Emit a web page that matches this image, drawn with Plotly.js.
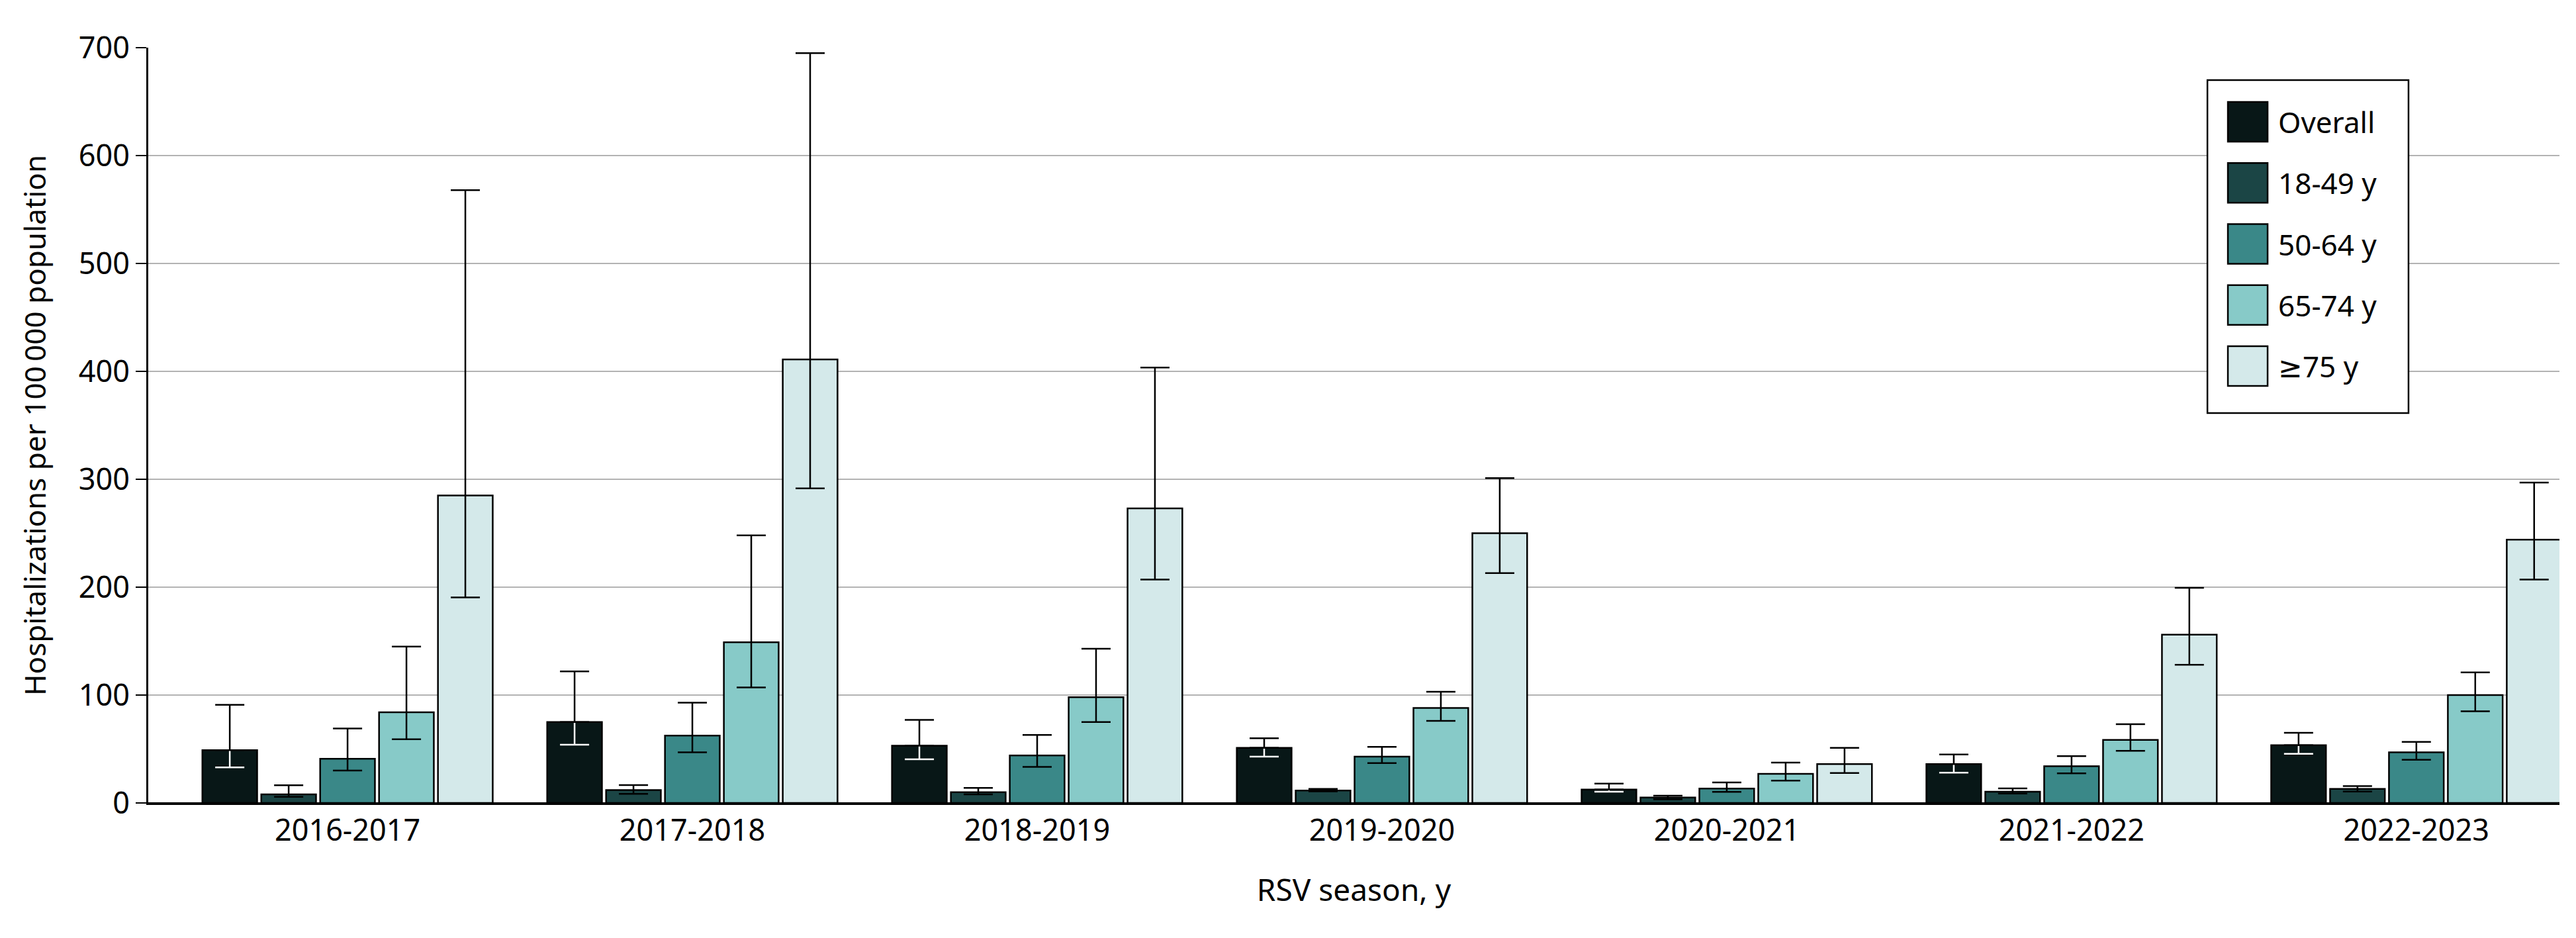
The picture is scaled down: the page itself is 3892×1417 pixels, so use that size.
<!DOCTYPE html>
<html>
<head>
<meta charset="utf-8">
<script src="https://cdn.plot.ly/plotly-3.0.1.min.js"></script>
<style>html,body{margin:0;padding:0;background:#fff;}</style>
</head>
<body>
<div id="chart" style="width:3892px;height:1417px;"></div>
<script>
// ---- Data ----
const seasons = ['2016-2017', '2017-2018', '2018-2019', '2019-2020', '2020-2021', '2021-2022', '2022-2023'];

const seriesNames = ['Overall', '18-49 y', '50-64 y', '65-74 y', '\u226575 y'];

const overall    = [49, 75, 53, 51, 12.5, 36, 53.5];
const overallLo  = [33, 54, 40.5, 43, 10.5, 28, 45.5];
const overallHi  = [91, 122, 77, 60, 18, 45, 65];

const age18_49   = [8, 12, 10, 11.5, 5, 10.5, 13];
const age18_49Lo = [5.7, 8.5, 7.9, 10.8, 3.3, 8.8, 10.6];
const age18_49Hi = [16.4, 16.6, 14, 13, 6.8, 13.5, 15.7];

const age50_64   = [41, 62.5, 44, 43, 13.3, 34, 47];
const age50_64Lo = [30, 47, 33.4, 37, 10.3, 27.4, 40];
const age50_64Hi = [69, 93, 63, 52, 19, 43.4, 56.6];

const age65_74   = [84, 149, 98, 88, 27, 58.5, 100];
const age65_74Lo = [59, 107, 75, 76, 20.7, 48.3, 85];
const age65_74Hi = [145, 248, 143, 103, 37.4, 73, 121];

const age75      = [285, 411, 273, 250, 36, 156, 244];
const age75Lo    = [190.5, 291.5, 207, 213, 27.7, 128, 207];
const age75Hi    = [568, 695, 403.5, 301, 51, 199.4, 297];

const colors = ['#081717', '#1b4545', '#3a8888', '#87cac8', '#d4e9ea'];

// ---- Build traces ----
const values = [overall, age18_49, age50_64, age65_74, age75];
const lows   = [overallLo, age18_49Lo, age50_64Lo, age65_74Lo, age75Lo];
const highs  = [overallHi, age18_49Hi, age50_64Hi, age65_74Hi, age75Hi];

const FONT = 'Noto Sans, DejaVu Sans, sans-serif';

const traces = values.map((v, i) => ({
  type: 'bar',
  name: seriesNames[i],
  x: seasons,
  y: v,
  offsetgroup: 'g' + i,
  legendgroup: 'lg' + i,
  marker: { color: colors[i], line: { color: '#000', width: 2.5 } },
  error_y: {
    type: 'data',
    symmetric: false,
    array: v.map((val, k) => highs[i][k] - val),
    arrayminus: v.map((val, k) => val - lows[i][k]),
    color: i === 0 ? '#ffffff' : '#000000',
    thickness: 2.5,
    width: 22
  },
  hoverinfo: 'x+y+name'
}));

// Overlay: black upper whisker for the dark "Overall" bars (lower part stays white inside the bar)
traces.push({
  type: 'bar',
  name: 'Overall (upper CI)',
  x: seasons,
  y: overall,
  offsetgroup: 'g0',
  showlegend: false,
  marker: { color: 'rgba(0,0,0,0)', line: { width: 0 } },
  error_y: {
    type: 'data',
    symmetric: false,
    array: overall.map((val, k) => overallHi[k] - val),
    arrayminus: overall.map(() => 0),
    color: '#000000',
    thickness: 2.5,
    width: 22
  },
  hoverinfo: 'skip'
});

const layout = {
  width: 3892,
  height: 1417,
  autosize: false,
  margin: { l: 224, r: 25, t: 72, b: 204 },
  paper_bgcolor: '#ffffff',
  plot_bgcolor: '#ffffff',
  font: { family: FONT, color: '#000', size: 44 },
  barmode: 'group',
  bargap: 0.146,
  bargroupgap: 0.07,
  showlegend: true,
  legend: {
    x: 0.8581, y: 0.9325, xanchor: 'left', yanchor: 'top',
    bgcolor: 'rgba(255,255,255,0)', borderwidth: 0,
    font: { family: FONT, size: 44, color: '#000' },
    itemwidth: 82,
    tracegroupgap: 32,
    traceorder: 'grouped'
  },
  shapes: [{
    type: 'rect', xref: 'paper', yref: 'paper',
    x0: 0.854, x1: 0.9374, y0: 0.5162, y1: 0.957,
    fillcolor: '#ffffff', line: { color: '#000', width: 2.5 }, layer: 'above'
  }],
  xaxis: {
    type: 'category',
    range: [-0.578, 6.415],
    showgrid: false,
    showline: true, linecolor: '#000', linewidth: 2.5,
    ticks: '',
    tickfont: { family: FONT, size: 45, color: '#000' },
    title: { text: 'RSV season, y', font: { family: FONT, size: 46, color: '#000' }, standoff: 48 }
  },
  yaxis: {
    range: [0, 700],
    dtick: 100,
    showgrid: true, gridcolor: '#b3b3b3', gridwidth: 2.5,
    zeroline: true, zerolinecolor: '#000', zerolinewidth: 2.5,
    showline: true, linecolor: '#000', linewidth: 3,
    ticks: 'outside', ticklen: 16, tickwidth: 2, tickcolor: '#000',
    tickfont: { family: FONT, size: 45, color: '#000' },
    title: { text: 'Hospitalizations per 100\u2009000 population', font: { family: FONT, size: 44, color: '#000' }, standoff: 36 }
  }
};

Plotly.newPlot('chart', traces, layout, { displayModeBar: false, staticPlot: true }).then(gd => {
  // enlarge the legend colour swatches to match the reference
  gd.querySelectorAll('.legend .legendpoints path').forEach(p => {
    p.setAttribute('d', 'M30,30H-30V-30H30Z');
  });
});
</script>
</body>
</html>
